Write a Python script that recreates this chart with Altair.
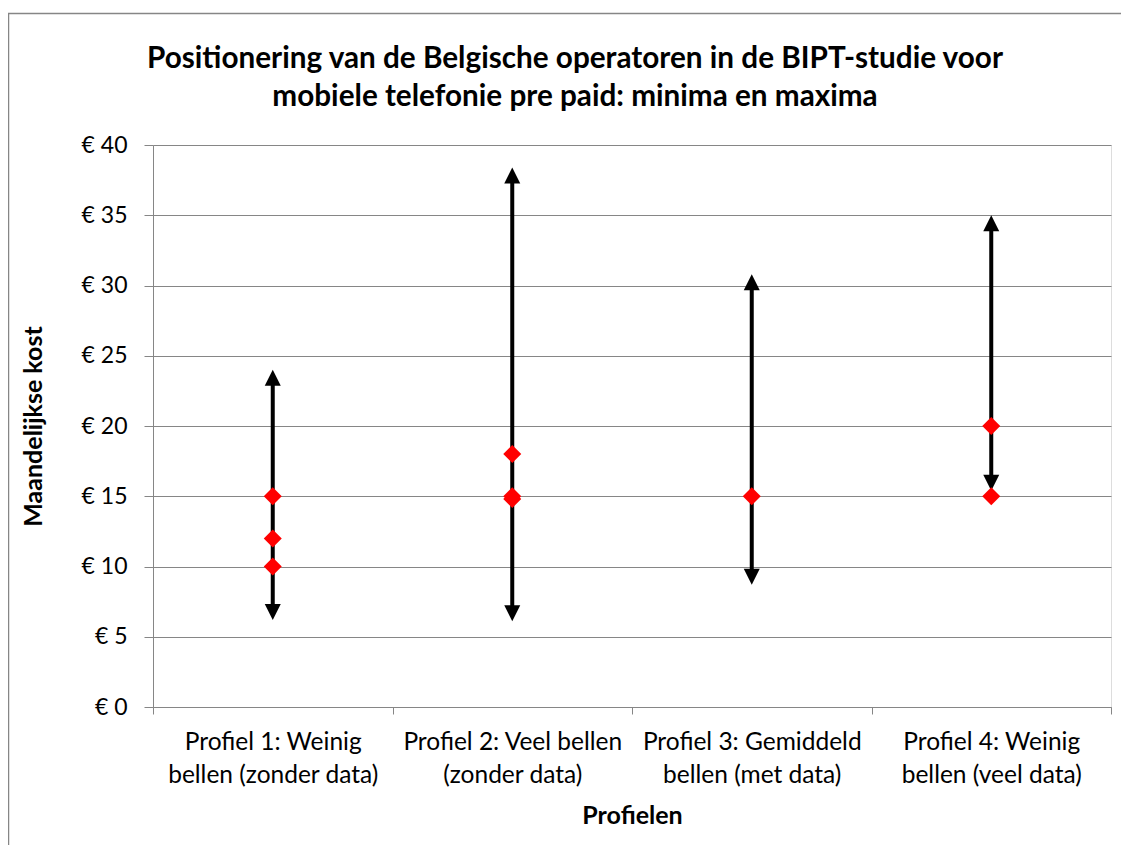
import altair as alt
import pandas as pd

# ---- data ----
categories = [
    "Profiel 1: Weinig|bellen (zonder data)",
    "Profiel 2: Veel bellen|(zonder data)",
    "Profiel 3: Gemiddeld|bellen (met data)",
    "Profiel 4: Weinig|bellen (veel data)",
]
range_min = [6.2, 6.1, 8.7, 15.4]
range_max = [24.0, 38.4, 30.8, 35.0]

point_profile = [0, 0, 0, 1, 1, 1, 2, 3, 3]
point_value = [15, 12, 10, 18, 15, 14.8, 15, 20, 15]

y_ticks = [0, 5, 10, 15, 20, 25, 30, 35, 40]

title_lines = [
    "Positionering van de Belgische operatoren in de BIPT-studie voor",
    "mobiele telefonie pre paid: minima en maxima",
]

FONT = "Lato"
GRAY = "#868686"

ranges = pd.DataFrame({"profiel": categories, "min": range_min, "max": range_max})
points = pd.DataFrame({"profiel": [categories[i] for i in point_profile], "kost": point_value})
frame = pd.DataFrame({"k": [0]})
title_df = pd.DataFrame({"t": title_lines, "line": [0, 1]})

x_enc = alt.X(
    "profiel:N",
    sort=categories,
    scale=alt.Scale(domain=categories, paddingInner=0, paddingOuter=0),
    axis=alt.Axis(
        title="Profielen",
        labelExpr="split(datum.label, '|')",
        labelAngle=0,
        labelFont=FONT,
        labelFontSize=24.5,
        labelColor="#000000",
        labelLineHeight=33,
        labelPadding=16,
        labelLimit=300,
        tickBand="extent",
        tickColor=GRAY,
        tickSize=7,
        domainColor=GRAY,
        titleFont=FONT,
        titleFontSize=25,
        titleFontWeight="bold",
        titleColor="#000000",
        titleBaseline="middle",
        titleY=108,
    ),
)

y_scale = alt.Scale(domain=[0, 40], nice=False, zero=True)
y_axis = alt.Axis(
    title="Maandelijkse kost",
    values=y_ticks,
    labelExpr="'€ ' + datum.value",
    labelFont=FONT,
    labelFontSize=23,
    labelColor="#000000",
    labelPadding=17,
    tickColor=GRAY,
    tickSize=9,
    domainColor=GRAY,
    gridColor=GRAY,
    gridWidth=1,
    grid=True,
    titleFont=FONT,
    titleFontSize=25,
    titleFontWeight="bold",
    titleColor="#000000",
    titleBaseline="middle",
    titleX=-120,
    titleY=281,
)

shaft = alt.Chart(ranges).mark_rule(
    color="#000000", strokeWidth=4, yOffset=-12, y2Offset=12
).encode(
    x=x_enc,
    y=alt.Y("min:Q", scale=y_scale, axis=y_axis),
    y2="max:Q",
)

head_up = alt.Chart(ranges).mark_point(
    shape="M0,0L1,2L-1,2Z", size=256, filled=True, color="#000000", opacity=1, strokeWidth=0
).encode(
    x=alt.X("profiel:N", sort=categories),
    y=alt.Y("max:Q", scale=y_scale),
)

head_down = alt.Chart(ranges).mark_point(
    shape="M0,0L1,-2L-1,-2Z", size=256, filled=True, color="#000000", opacity=1, strokeWidth=0
).encode(
    x=alt.X("profiel:N", sort=categories),
    y=alt.Y("min:Q", scale=y_scale),
)

diamonds = alt.Chart(points).mark_point(
    shape="M0,-1L1,0L0,1L-1,0Z", size=324, filled=True, color="#FF0000", opacity=1, strokeWidth=0
).encode(
    x=alt.X("profiel:N", sort=categories),
    y=alt.Y("kost:Q", scale=y_scale),
)

border = alt.Chart(frame).mark_rect(
    fill=None, stroke=GRAY, strokeWidth=1.5, clip=False
).encode(
    x=alt.value(-144.5), x2=alt.value(990), y=alt.value(-131.5), y2=alt.value(900)
)

title_style = dict(font=FONT, fontSize=29.7, fontWeight="bold", color="#000000",
                   align="center", baseline="alphabetic")
title1 = alt.Chart(title_df).transform_filter("datum.line == 0").mark_text(**title_style).encode(
    text="t:N", x=alt.value(422), y=alt.value(-77)
)
title2 = alt.Chart(title_df).transform_filter("datum.line == 1").mark_text(**title_style).encode(
    text="t:N", x=alt.value(422), y=alt.value(-39)
)

chart = alt.layer(border, shaft, head_up, head_down, diamonds, title1, title2).properties(
    width=958,
    height=562,
    autosize=alt.AutoSizeParams(type="none"),
    padding={"left": 145, "top": 137, "right": 10, "bottom": 138},
).configure_view(stroke=None).configure(background="#ffffff")

chart.save("out.html", embed_options={"renderer": "svg", "actions": False})
